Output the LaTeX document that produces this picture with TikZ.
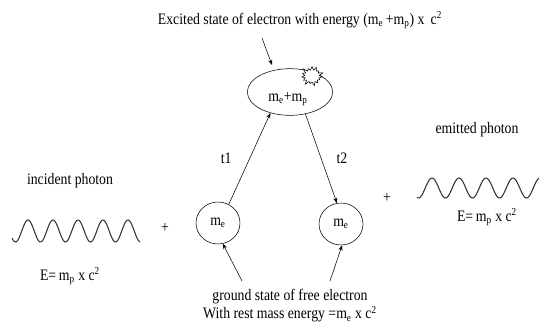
\documentclass[tikz,border=0pt]{standalone}
\usepackage{fontspec}
\setmainfont{Liberation Serif}[FakeStretch=0.86]
\usepackage{tikz}
\usetikzlibrary{arrows.meta,positioning,shapes.geometric,shapes.symbols}
\newcommand{\mel}{m\textsubscript{e}}
\newcommand{\mph}{m\textsubscript{p}}
\newcommand{\csq}{c\textsuperscript{2}}

\begin{document}
\begin{tikzpicture}[x=0.75pt, y=-0.75pt, font=\fontsize{12}{13.5}\selectfont, >={Stealth[length=4pt,width=3pt]},
  state/.style={ellipse, draw, thin, inner sep=0pt},
  wave/.style={thick, black!80, smooth, samples=120}]
  \useasboundingbox (0,0) rectangle (539,329);
  % Zustaende
  \node[state, minimum width=64pt, minimum height=35pt] (excited) at (290,92) {};
  \node (exclabel) at (288,99) {\mel+\mph};
  \node[starburst, draw, fill=white, starburst points=15, starburst point height=3.5pt,
        minimum width=18pt, minimum height=16pt, inner sep=0pt] (burst) at (312,76) {};
  \node[state, minimum width=33pt, minimum height=31.5pt] (gleft) at (218,223) {\mel};
  \node[state, minimum width=33pt, minimum height=31.5pt] (gright) at (341,224) {\mel};
  % Uebergaenge
  \draw[->] (gleft.60) -- node[left=10pt] {t1} (excited.227);
  \draw[->] (excited.305) -- node[right=8pt] {t2} (gright.101);
  % Beschriftung oben
  \node (exctext) at (300,20) {Excited state of electron with energy (\mel\,+\mph) x\, \csq};
  \coordinate (exctail) at (262,38);
  \draw[->] (exctail) -- (272,65);
  % Beschriftung unten
  \node[align=center] (groundtext) at (290,306) {ground state of free electron\\With rest mass energy =\mel\ x \csq};
  \coordinate (gltail) at (242,281);
  \coordinate (grtail) at (330,281);
  \draw[->] (gltail) -- (gleft.283);
  \draw[->] (grtail) -- (gright.273);
  % einfallendes Photon
  \node (inlabel) at (70,181) {incident photon};
  \draw[wave] plot[domain=12:140] (\x, {231 - 11*cos(14.4*(\x-28))});
  \node (inenergy) at (70,276) {E=\,\mph\ x \csq};
  \node (plusl) at (165,228) {+};
  % emittiertes Photon
  \node (outlabel) at (477,130) {emitted photon};
  \draw[wave] plot[domain=417:539] (\x, {188 - 10*cos(13.33*(\x-432))});
  \node (outenergy) at (487,217) {E=\,\mph\ x \csq};
  \node (plusr) at (387,198) {+};
\end{tikzpicture}
\end{document}
